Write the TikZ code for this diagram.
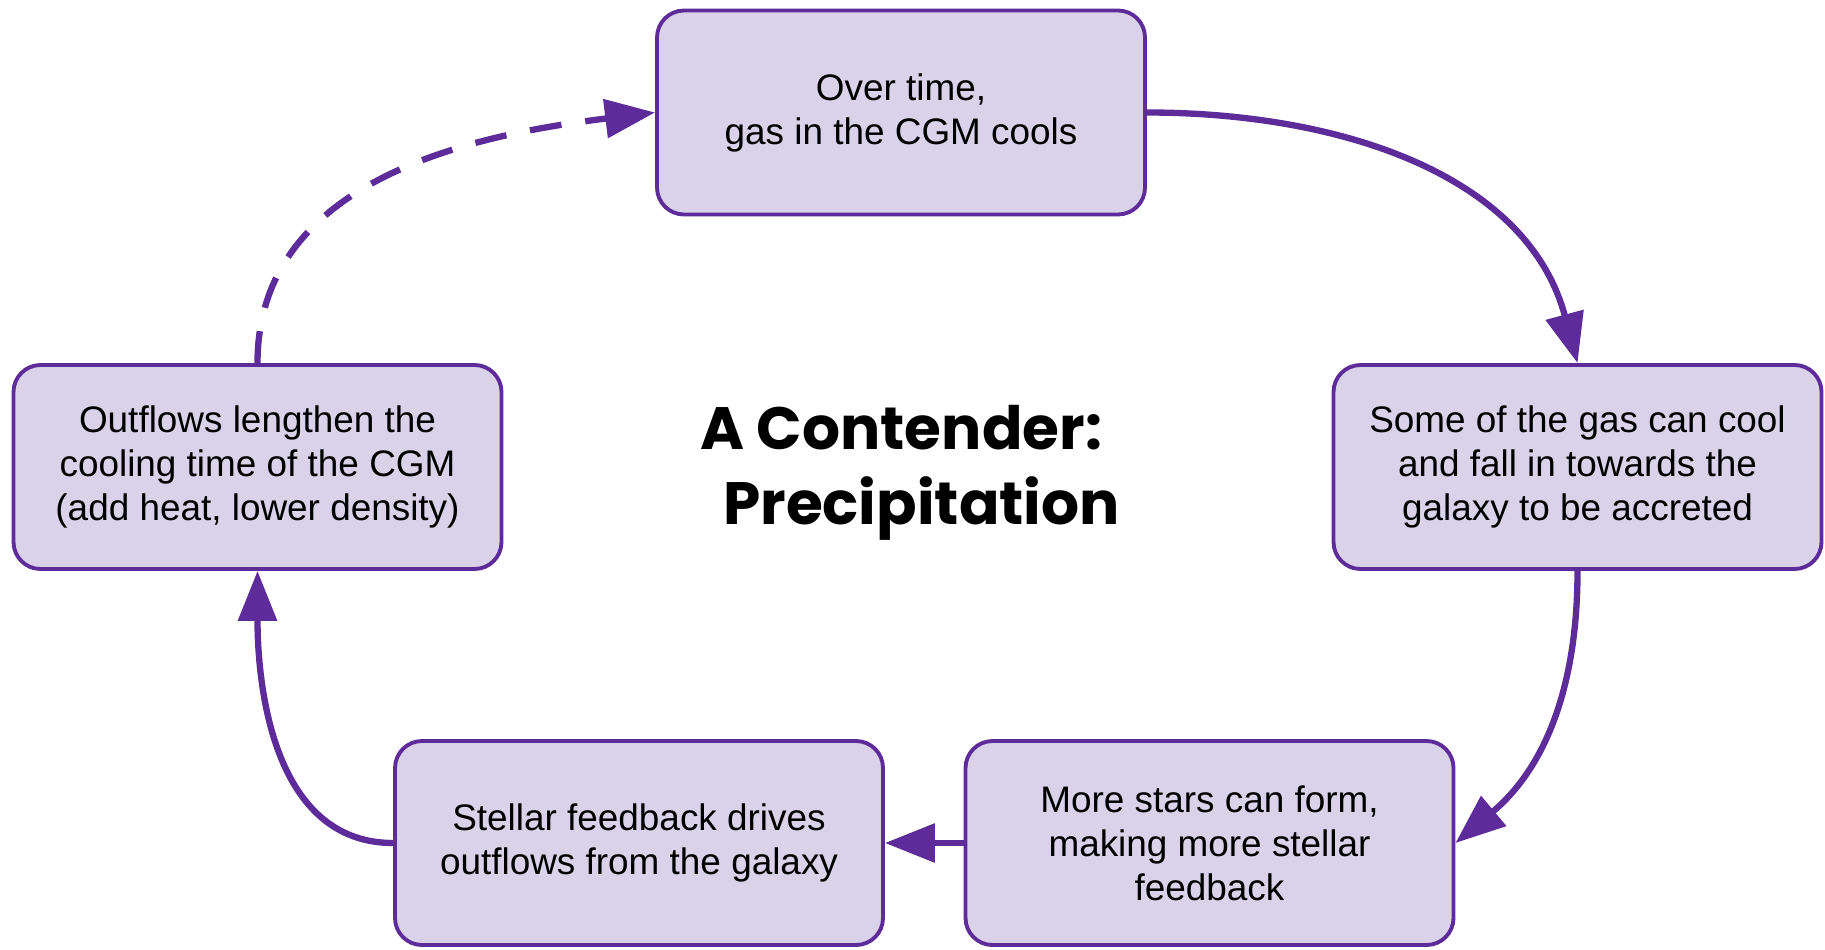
\documentclass[tikz,border=0pt]{standalone}
\usepackage{fontspec}
\setmainfont{Liberation Sans}
\newfontfamily\titlefont{Poppins}
\usepackage{xcolor}
\usepackage{tikz}
\usetikzlibrary{arrows.meta, positioning}
\definecolor{cyclepurple}{RGB}{94,44,154}
\definecolor{cyclefill}{RGB}{217,210,233}

\begin{document}
\begin{tikzpicture}[
    stagebox/.style={draw=cyclepurple, fill=cyclefill, line width=1.1pt,
        rounded corners=0.27cm, minimum width=4.88cm, minimum height=2.04cm,
        inner sep=0pt, align=center, font=\fontsize{10.5}{12.5}\selectfont},
    flow/.style={draw=cyclepurple, line width=1.8pt,
        -{Triangle[length=0.5cm, width=0.38cm]}},
    maybeflow/.style={flow, dash pattern=on 0.32cm off 0.24cm}
]
\useasboundingbox (0,0) rectangle (18.25,9.49);

% Stages of the cycle
\node[stagebox] (cools)   at (9.01,8.365)  {Over time,\\gas in the CGM cools};
\node[stagebox] (accrete) at (15.775,4.82) {Some of the gas can cool\\and fall in towards the\\galaxy to be accreted};
\node[stagebox] (stars)   at (12.095,1.06) {More stars can form,\\making more stellar\\feedback};
\node[stagebox] (outflow) at (6.39,1.06)   {Stellar feedback drives\\outflows from the galaxy};
\node[stagebox] (heat)    at (2.575,4.82)  {Outflows lengthen the\\cooling time of the CGM\\(add heat, lower density)};

% Title in the middle
\node[align=left, font=\titlefont\bfseries\fontsize{17}{21.3}\selectfont] (title) at (9.1,4.76)
    {A Contender:\\\hspace*{0.23cm}Precipitation};

% Arrows
 \draw[flow](cools.east) to[out=0, in=105] (accrete.north);
 \draw[flow](accrete.south) to[out=-90, in=40] (stars.east);
 \draw[flow](stars.west) -- (outflow.east);
 \draw[flow](outflow.west) to[out=180, in=-90] (heat.south);
 \draw[maybeflow](heat.north) to[out=90, in=187] (cools.west);

\end{tikzpicture}
\end{document}
